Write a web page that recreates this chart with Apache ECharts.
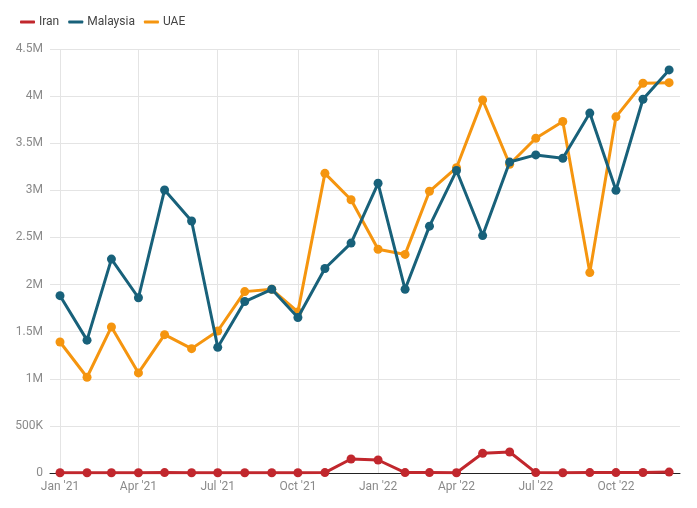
<!DOCTYPE html>
<html><head><meta charset="utf-8">
<script src="https://cdn.jsdelivr.net/npm/echarts@6/dist/echarts.min.js"></script>
<style>html,body{margin:0;padding:0;background:#fff}#c{width:697px;height:508px}</style>
</head><body><div id="c"></div>
<script>
var months = ['2021-01','2021-02','2021-03','2021-04','2021-05','2021-06','2021-07','2021-08','2021-09','2021-10','2021-11','2021-12',
              '2022-01','2022-02','2022-03','2022-04','2022-05','2022-06','2022-07','2022-08','2022-09','2022-10','2022-11','2022-12'];
var iran = [3000,3000,3000,3000,4000,3000,3000,3000,3000,3000,4000,149000,
            138000,4000,4000,3000,209000,223000,4000,3000,4000,4000,5000,10000];
var malaysia = [1882000,1410000,2270000,1860000,3004000,2675000,1334000,1820000,1950000,1650000,2170000,2440000,
                3075000,1950000,2620000,3210000,2520000,3300000,3376000,3340000,3820000,3000000,3967000,4278000];
var uae = [1390000,1016000,1550000,1062000,1468000,1320000,1507000,1925000,1950000,1710000,3180000,2900000,
           2375000,2320000,2990000,3240000,3960000,3277000,3553000,3730000,2127000,3780000,4137000,4143000];
var yTicks = ['0','500K','1M','1.5M','2M','2.5M','3M','3.5M','4M','4.5M'];
var monthNames = ['Jan','Feb','Mar','Apr','May','Jun','Jul','Aug','Sep','Oct','Nov','Dec'];

function toTs(m){ var p = m.split('-'); return Date.UTC(+p[0], +p[1]-1, 1); }
function pairs(vals){ return months.map(function(m,i){ return [toTs(m), vals[i]]; }); }
var DAY = 86400000;

var chart = echarts.init(document.getElementById('c'));
var font = 'Roboto, "Noto Sans", sans-serif';
function mk(name, vals, color, z){
  return {name:name, type:'line', data:pairs(vals), color:color, z:z,
    symbol:'circle', symbolSize:9, showSymbol:true,
    lineStyle:{width:3, color:color}, itemStyle:{color:color}};
}
chart.setOption({
  animation:false,
  textStyle:{fontFamily:font},
  legend:{left:15, top:11, itemWidth:15, itemHeight:3, itemGap:9,
    icon:'roundRect',
    textStyle:{fontFamily:font, fontSize:12, color:'#444', padding:[0,0,0,-1]},
    data:[{name:'Iran'},{name:'Malaysia'},{name:'UAE'}]},
  grid:{left:50, right:17, top:49, bottom:35, containLabel:false},
  xAxis:{type:'time', useUTC:true,
    min:toTs('2021-01') - 11.5*DAY, max:toTs('2022-12') + 12.5*DAY,
    minInterval:100*DAY, maxInterval:100*DAY,
    axisLine:{show:true, lineStyle:{color:'#222', width:1}},
    axisTick:{show:false},
    splitLine:{show:true, showMinLine:false, showMaxLine:false, lineStyle:{color:'#e4e4e4', width:1}},
    axisLabel:{color:'#8a8a8a', fontSize:12, fontFamily:font, margin:8,
      showMinLabel:false, showMaxLabel:false,
      formatter:function(v){ var d=new Date(v); return monthNames[d.getUTCMonth()]+" '"+String(d.getUTCFullYear()).slice(2); }}
  },
  yAxis:{type:'value', min:0, max:4500000, interval:500000,
    axisLine:{show:false}, axisTick:{show:false},
    splitLine:{lineStyle:{color:'#e4e4e4', width:1}},
    axisLabel:{color:'#8a8a8a', fontSize:12, fontFamily:font, margin:7,
      formatter:function(v){ return yTicks[Math.round(v/500000)]; }}
  },
  series:[mk('Iran', iran, '#c1272d', 3), mk('Malaysia', malaysia, '#18617a', 2), mk('UAE', uae, '#f5950f', 1)]
});
</script></body></html>
